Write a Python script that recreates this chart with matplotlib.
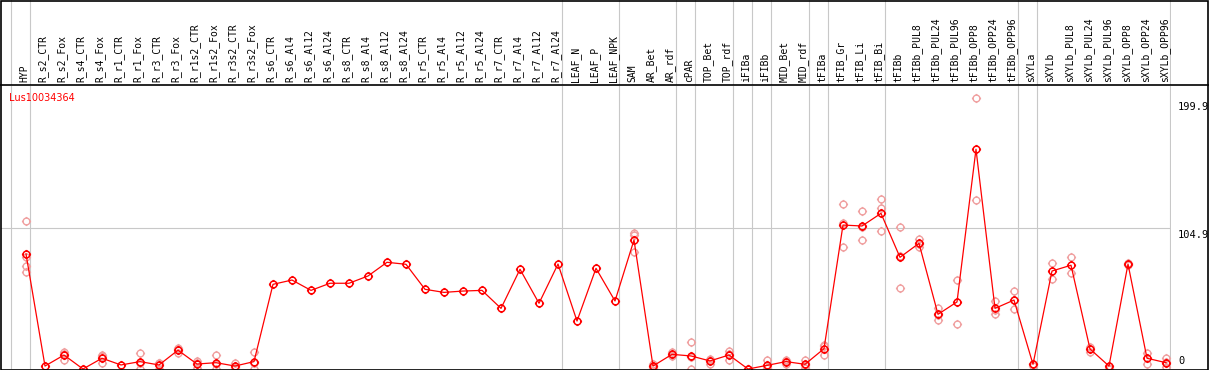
import numpy as np
import matplotlib
matplotlib.use('Agg')
import matplotlib.pyplot as plt
from matplotlib.path import Path
from matplotlib.patches import Rectangle
from matplotlib.lines import Line2D
from matplotlib.transforms import blended_transform_factory

GENE = 'Lus10034364'
SAMPLES = ['HYP', 'R_s2_CTR', 'R_s2_Fox', 'R_s4_CTR', 'R_s4_Fox', 'R_r1_CTR', 'R_r1_Fox',
           'R_r3_CTR', 'R_r3_Fox', 'R_r1s2_CTR', 'R_r1s2_Fox', 'R_r3s2_CTR', 'R_r3s2_Fox',
           'R_s6_CTR', 'R_s6_Al4', 'R_s6_Al12', 'R_s6_Al24', 'R_s8_CTR', 'R_s8_Al4',
           'R_s8_Al12', 'R_s8_Al24', 'R_r5_CTR', 'R_r5_Al4', 'R_r5_Al12', 'R_r5_Al24',
           'R_r7_CTR', 'R_r7_Al4', 'R_r7_Al12', 'R_r7_Al24', 'LEAF_N', 'LEAF_P', 'LEAF_NPK',
           'SAM', 'AR_Bet', 'AR_rdf', 'cPAR', 'TOP_Bet', 'TOP_rdf', 'iFIBa', 'iFIBb',
           'MID_Bet', 'MID_rdf', 'tFIBa', 'tFIB_Gr', 'tFIB_Li', 'tFIB_Bi', 'tFIBb',
           'tFIBb_PUL8', 'tFIBb_PUL24', 'tFIBb_PUL96', 'tFIBb_OPP8', 'tFIBb_OPP24',
           'tFIBb_OPP96', 'sXYLa', 'sXYLb', 'sXYLb_PUL8', 'sXYLb_PUL24', 'sXYLb_PUL96',
           'sXYLb_OPP8', 'sXYLb_OPP24', 'sXYLb_OPP96']

# mean expression per sample
means = [85.6, 2.2, 10.4, 0.0, 8.0, 3.0, 5.5, 3.0, 14.0, 3.7, 4.7, 2.2, 5.5,
         63.0, 66.2, 58.5, 63.8, 63.8, 69.2, 79.4, 77.9, 59.3, 57.0, 58.0, 58.5,
         45.1, 74.2, 48.9, 78.1, 35.7, 74.9, 50.6,
         96.0, 2.2, 10.9, 9.7, 6.0, 10.4, 0.0, 2.7, 5.5, 3.5, 15.1,
         107.1, 106.4, 115.8, 83.1, 93.5, 40.7, 49.9, 163.5, 45.1, 51.3,
         3.5, 72.9, 77.2, 14.9, 2.2, 78.1, 8.0, 4.7]

# individual replicates (empty where none are drawn)
replicates = [[110.3, 83.1, 76.6, 71.9], [], [12.9, 6.7, 11.5], [], [10.4, 4.2, 9.4],
              [], [11.7, 0.0, 4.8], [4.7, 0.0, 4.3], [14.9, 11.7, 15.4], [6.0, 0.5, 4.6],
              [10.4, 0.0, 3.7], [4.7, 0.5, 1.4], [12.4, 0.0, 4.1],
              [], [], [], [], [], [], [], [], [], [], [], [], [], [], [], [], [], [], [],
              [101.0, 99.7, 87.3], [3.7, 1.0, 2.0], [12.4, 9.7, 10.6], [19.9, 0.0, 9.2],
              [7.4, 3.7, 6.9], [13.6, 6.7, 10.9], [0.0, 0.0], [6.7, 0.5, 0.9],
              [6.7, 4.0, 5.8], [6.7, 0.5, 3.3], [17.1, 10.4, 18.0],
              [122.5, 90.5, 108.3], [117.6, 96.0, 105.6], [126.5, 119.6, 102.4],
              [105.4, 60.0, 83.9], [96.7, 90.5, 93.3], [45.1, 36.5, 40.5], [66.2, 33.2],
              [201.4, 125.7], [50.6, 40.7, 44.0], [58.0, 44.4, 51.5],
              [4.0, 2.5], [78.6, 66.7], [83.1, 71.2], [16.0, 12.4], [0.0, 1.0],
              [78.5, 77.5], [11.7, 3.7], [8.0, 1.3, 5.0]]

# last sample index of each group (separator drawn after it)
group_ends = [-1, 0, 28, 31, 34, 35, 37, 38, 39, 41, 42, 45, 52, 53, 60]
y_marks = [199.9, 104.9, 0]

W, H = 1209, 370
fig = plt.figure(figsize=(W / 100, H / 100), dpi=100)

# pixel layout
x0, x1 = 1, 1171
head = 85
ybot = 369
ax = fig.add_axes([x0 / W, (H - ybot) / H, (x1 - x0) / W, (ybot - head - 1) / H])
hax = fig.add_axes([x0 / W, (H - head) / H, (x1 - x0) / W, head / H], sharex=ax)

px = 19.0  # pixels per sample
ax.set_xlim((x0 - 26) / px, (x1 - 26) / px)
ax.set_ylim(0, (ybot - head - 1) / 1.344)
hax.set_ylim(0, 1)
for a in (ax, hax):
    a.axis('off')

grey = '#c8c8c8'
for g in group_ends:
    ax.axvline(g + 0.21, color=grey, lw=0.8, zorder=0)
    hax.axvline(g + 0.21, color=grey, lw=0.8, zorder=0)
ax.axhline(104.9, color=grey, lw=0.8, zorder=0)

# marker: circle with small ticks
circ = Path.unit_circle()
ticks = [(0, 1.0), (0, 1.35), (0, -1.0), (0, -1.35), (1.0, 0), (1.35, 0), (-1.0, 0), (-1.35, 0)]
tick_codes = [Path.MOVETO, Path.LINETO] * 4
marker = Path(np.concatenate([circ.vertices, ticks]),
              np.concatenate([circ.codes, tick_codes]))

xs = np.arange(len(SAMPLES))
rx = [i for i, r in enumerate(replicates) for _ in r]
ry = [v for r in replicates for v in r]
ax.plot(rx, ry, ls='none', marker=marker, ms=6.6, mfc='none', mec='#f0a0a0',
        mew=1.0, clip_on=False, zorder=2)
ax.plot(xs, means, color='red', lw=0.9, zorder=3, clip_on=False)
ax.plot(xs, means, ls='none', marker=marker, ms=6.6, mfc='none', mec='red',
        mew=1.1, clip_on=False, zorder=4)

for i, name in enumerate(SAMPLES):
    hax.text(i - 0.1, 0.03, name, rotation=90, ha='center', va='bottom',
             family='DejaVu Sans Mono', fontsize=7)

ax.text(8 / (x1 - x0), 0.958, GENE, transform=ax.transAxes, color='red',
        fontsize=7, va='center', ha='left')

tr = blended_transform_factory(ax.transAxes, ax.transData)
for v in y_marks:
    ax.text(1 + 7 / (x1 - x0), v + (2 if v == 0 else -1.5), '%g' % v if v == 0 else f'{v:.1f}',
            transform=tr, fontsize=7.5, family='DejaVu Sans Mono',
            va='bottom' if v == 0 else 'top', ha='left')

# frame and header rule
fig.patches.append(Rectangle((0.5 / W, 0.5 / H), (W - 2) / W, (H - 1.5) / H,
                             transform=fig.transFigure, fill=False, ec='black', lw=1.2))
fig.lines.append(Line2D([0, 1], [(H - head) / H] * 2, transform=fig.transFigure,
                        color='black', lw=1.2))

fig.savefig('out.png', dpi=100)
